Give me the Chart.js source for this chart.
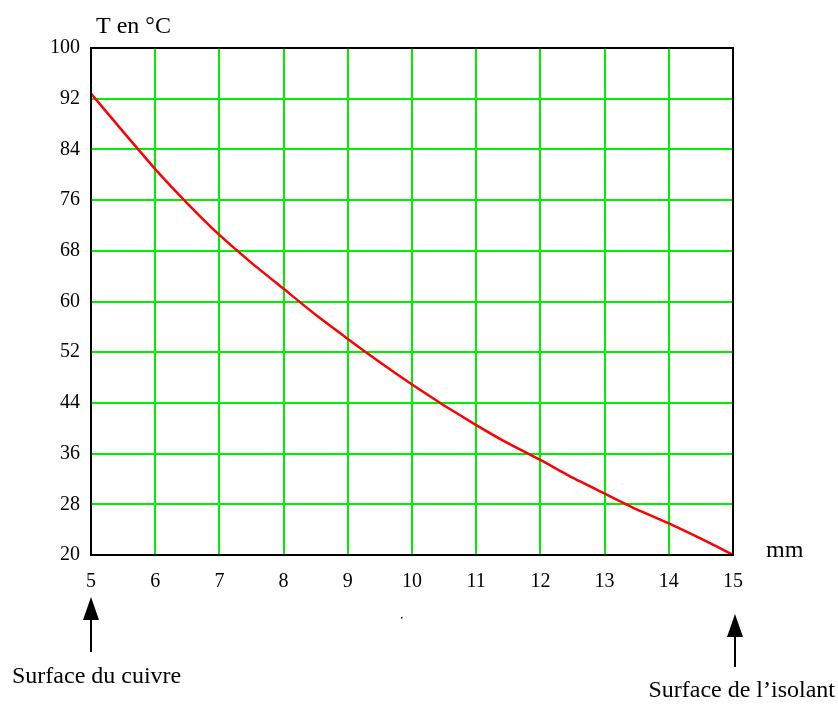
<!DOCTYPE html>
<html>
<head>
    <title>T en °C</title>
    <script src="https://cdn.jsdelivr.net/npm/chart.js"></script>
    <style>
        body { margin: 0; background: #fff; }
        #wrap { width: 838px; height: 704px; }
    </style>
</head>
<body>
    <div id="wrap"><canvas id="chart"></canvas></div>

    <script>
    // épaisseur en mm
    const positions = [5, 5.5, 6, 6.5, 7, 7.5, 8, 8.5, 9, 9.5, 10, 10.5, 11, 11.5, 12, 12.5, 13, 13.5, 14, 14.5, 15];
    // température
    const temperatures = [92.8, 86.8, 80.9, 75.5, 70.5, 66.1, 62.0, 57.9, 54.1, 50.4, 46.9, 43.6, 40.5, 37.6, 35.0, 32.2, 29.7, 27.2, 25.0, 22.6, 20.0];
    const yTicks = [20, 28, 36, 44, 52, 60, 68, 76, 84, 92, 100];
    const xTicks = [5, 6, 7, 8, 9, 10, 11, 12, 13, 14, 15];

    const serif = '"Liberation Serif", "DejaVu Serif", serif';

    // cadre noir + textes et flèches autour du graphique
    const decor = {
        id: 'decor',
        afterDraw(chart) {
            const ctx = chart.ctx;
            const a = chart.chartArea;
            const xs = chart.scales.x;
            ctx.save();
            ctx.strokeStyle = '#000';
            ctx.lineWidth = 2;
            ctx.strokeRect(a.left, a.top, a.right - a.left, a.bottom - a.top);

            ctx.fillStyle = '#000';
            ctx.font = '24px ' + serif;
            ctx.textBaseline = 'alphabetic';
            ctx.textAlign = 'left';
            ctx.fillText('T en °C', 96, 33);
            ctx.fillText('mm', 766, 557);
            ctx.fillText('Surface du cuivre', 12, 683);
            ctx.textAlign = 'right';
            ctx.fillText('Surface de l\u2019isolant', 835, 697);

            function arrow(x, top, headBottom, bottom) {
                ctx.beginPath();
                ctx.moveTo(x, top);
                ctx.lineTo(x - 8, headBottom);
                ctx.lineTo(x + 8, headBottom);
                ctx.closePath();
                ctx.fill();
                ctx.lineWidth = 2;
                ctx.beginPath();
                ctx.moveTo(x, headBottom);
                ctx.lineTo(x, bottom);
                ctx.stroke();
            }
            arrow(xs.getPixelForValue(5), 597, 620, 652);
            arrow(xs.getPixelForValue(15) + 2, 614, 637, 667);

            ctx.fillRect(401, 617, 1.5, 1.5);
            ctx.restore();
        }
    };

    new Chart(document.getElementById('chart'), {
        type: 'line',
        data: {
            datasets: [{
                data: positions.map((x, i) => ({ x: x, y: temperatures[i] })),
                borderColor: '#ff0000',
                borderWidth: 2.5,
                pointRadius: 0,
                tension: 0.15,
                fill: false
            }]
        },
        options: {
            responsive: true,
            maintainAspectRatio: false,
            animation: false,
            layout: { padding: { left: 0, top: 48, right: 105, bottom: 109 } },
            plugins: { legend: { display: false }, tooltip: { enabled: false } },
            scales: {
                x: {
                    type: 'linear',
                    min: 5,
                    max: 15,
                    afterBuildTicks: s => { s.ticks = xTicks.map(v => ({ value: v })); },
                    afterFit: s => { s.height = 40; },
                    grid: { color: '#00ee00', lineWidth: 2, drawTicks: false },
                    border: { display: false },
                    ticks: { color: '#000', padding: 15, maxRotation: 0, font: { family: serif, size: 20 } }
                },
                y: {
                    min: 20,
                    max: 100,
                    afterBuildTicks: s => { s.ticks = yTicks.map(v => ({ value: v })); },
                    afterFit: s => { s.width = 91; },
                    grid: { color: '#00ee00', lineWidth: 2, drawTicks: false },
                    border: { display: false },
                    ticks: { color: '#000', padding: 11, font: { family: serif, size: 20 } }
                }
            }
        },
        plugins: [decor]
    });
    </script>
</body>
</html>
